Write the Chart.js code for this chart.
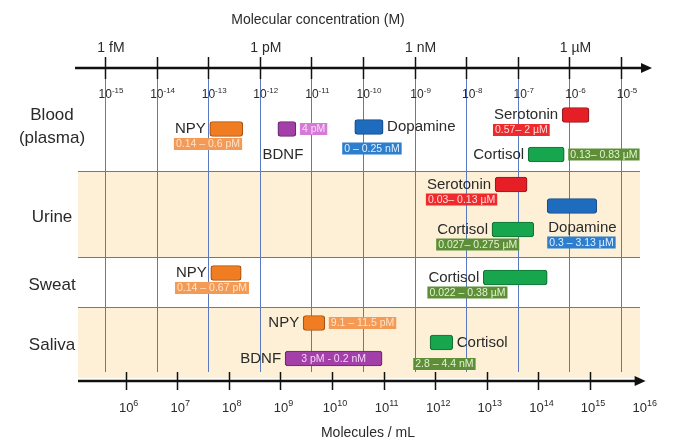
<!DOCTYPE html>
<html>
<head>
<meta charset="utf-8">
<script src="https://cdn.jsdelivr.net/npm/chart.js@4.4.0/dist/chart.umd.min.js"></script>
<style>
  html, body { margin: 0; padding: 0; background: #fff; }
  #wrap { width: 678px; height: 441px; }
</style>
</head>
<body>
<div id="wrap"><canvas id="chart" width="678" height="441"></canvas></div>
<script>
// rows = body fluids
const fluids = ['Blood', 'Urine', 'Sweat', 'Saliva'];
const fluidLabels = [['Blood', '(plasma)'], ['Urine'], ['Sweat'], ['Saliva']];

// one entry per bar
const markerNames = ['NPY', 'BDNF', 'Dopamine', 'Serotonin', 'Cortisol',
  'Serotonin', 'Dopamine', 'Cortisol',
  'NPY', 'Cortisol',
  'NPY', 'BDNF', 'Cortisol'];
const markerFluid = ['Blood', 'Blood', 'Blood', 'Blood', 'Blood',
  'Urine', 'Urine', 'Urine',
  'Sweat', 'Sweat',
  'Saliva', 'Saliva', 'Saliva'];
// bar ends as log10 of molar concentration
const logLow  = [-12.97, -11.65, -10.16, -6.14, -6.80, -7.44, -6.43, -7.50, -12.95, -7.67, -11.16, -11.51, -8.70];
const logHigh = [-12.33, -11.30, -9.61, -5.62, -6.10, -6.82, -5.47, -6.69, -12.36, -6.43, -10.74, -9.63, -8.26];
const rangeText = ['0.14 – 0.6 pM', '4 pM', '0 – 0.25 nM', '0.57– 2 µM', '0.13– 0.83 µM',
  '0.03– 0.13 µM', '0.3 – 3.13 µM', '0.027– 0.275 µM',
  '0.14 – 0.67 pM', '0.022 – 0.38 µM',
  '9.1 – 11.5 pM', '3 pM - 0.2 nM', '2.8 – 4.4 nM'];

// axes
const decadesM = [-15, -14, -13, -12, -11, -10, -9, -8, -7, -6, -5];
const unitDecades = [-15, -12, -9, -6];
const unitLabels = ['1 fM', '1 pM', '1 nM', '1 µM'];
const decadesMol = [6, 7, 8, 9, 10, 11, 12, 13, 14, 15, 16];
const molOffset = 20.6;   // log10(molecules/mL) - log10(M) as drawn

// layout, in y-scale units (rows stacked top to bottom)
const rowEdges = [0, 10.3, 18.9, 23.9, 31];
const laneY = [6.1, 6.1, 5.9, 4.7, 8.65, 11.65, 13.8, 16.15, 20.5, 20.95, 25.5, 29.05, 27.45];
const namePos = ['left', 'below', 'right', 'left', 'left', 'left', 'belowLeft', 'left', 'left', 'left', 'left', 'left', 'right'];
const tagPos = ['under', 'right', 'below', 'under', 'right', 'under', 'under', 'under', 'under', 'under', 'right', 'inside', 'below'];

const FONT = '"Liberation Sans", Arial, sans-serif';
const barColors = {
  NPY: ['#f07d22', '#a85414'],
  BDNF: ['#a23fa8', '#6a2870'],
  Dopamine: ['#1f6cbf', '#164e8c'],
  Serotonin: ['#e61f27', '#961a1f'],
  Cortisol: ['#17a64d', '#117236']
};
const tagColors = {
  NPY: ['#f49a55', '#fde4cc'],
  BDNF: ['#d67ad8', '#fbdcfb'],
  Dopamine: ['#2d7ecd', '#e2efff'],
  Serotonin: ['#ee2a2c', '#ffd9d9'],
  Cortisol: ['#5e8f38', '#e0f3cf']
};

function drawPow(ctx, base, exp, cx, y, size) {
  const small = Math.round(size * 0.7);
  ctx.font = size + 'px ' + FONT;
  const w1 = ctx.measureText(base).width;
  ctx.font = small + 'px ' + FONT;
  const w2 = ctx.measureText(exp).width;
  const x0 = cx - (w1 + w2) / 2;
  ctx.textAlign = 'left';
  ctx.textBaseline = 'alphabetic';
  ctx.font = size + 'px ' + FONT;
  ctx.fillText(base, x0, y);
  ctx.font = small + 'px ' + FONT;
  ctx.fillText(exp, x0 + w1, y - size * 0.45);
}

function arrowLine(ctx, x1, x2, y) {
  ctx.strokeStyle = '#111';
  ctx.fillStyle = '#111';
  ctx.lineWidth = 2.5;
  ctx.beginPath();
  ctx.moveTo(x1, y);
  ctx.lineTo(x2 - 8, y);
  ctx.stroke();
  ctx.beginPath();
  ctx.moveTo(x2, y);
  ctx.lineTo(x2 - 11, y - 5);
  ctx.lineTo(x2 - 11, y + 5);
  ctx.closePath();
  ctx.fill();
}

function drawTag(ctx, text, x, top, colors, align) {
  ctx.font = '10.5px ' + FONT;
  const w = ctx.measureText(text).width + 4;
  const left = align === 'center' ? x - w / 2 : x;
  ctx.fillStyle = colors[0];
  ctx.fillRect(left, top, w, 12);
  ctx.fillStyle = colors[1];
  ctx.textAlign = 'left';
  ctx.textBaseline = 'middle';
  ctx.fillText(text, left + 2, top + 6.5);
}

const overlay = {
  id: 'overlay',
  beforeDatasetsDraw(chart) {
    const ctx = chart.ctx;
    const { x, y } = chart.scales;
    const area = chart.chartArea;
    ctx.save();
    // shaded rows
    ctx.fillStyle = '#fdf0d6';
    for (let i = 1; i < fluids.length; i += 2) {
      const t = y.getPixelForValue(rowEdges[i]);
      const b = y.getPixelForValue(rowEdges[i + 1]);
      ctx.fillRect(area.left, t, area.right - area.left, b - t);
    }
    // row separators
    ctx.strokeStyle = '#5a79c0';
    ctx.lineWidth = 1;
    for (let i = 1; i < fluids.length; i++) {
      const py = Math.round(y.getPixelForValue(rowEdges[i])) + 0.5;
      ctx.beginPath();
      ctx.moveTo(area.left, py);
      ctx.lineTo(area.right, py);
      ctx.stroke();
    }
    // decade grid
    decadesM.forEach(d => {
      const px = Math.round(x.getPixelForValue(d)) + 0.5;
      ctx.beginPath();
      ctx.moveTo(px, area.top);
      ctx.lineTo(px, area.bottom - 6);
      ctx.stroke();
    });
    ctx.restore();
  },
  afterDatasetsDraw(chart) {
    const ctx = chart.ctx;
    const { x, x2, y } = chart.scales;
    const area = chart.chartArea;
    ctx.save();
    ctx.fillStyle = '#2a2a2a';

    // top axis
    ctx.textAlign = 'center';
    ctx.textBaseline = 'alphabetic';
    ctx.font = '14px ' + FONT;
    ctx.fillText('Molecular concentration (M)', 318, 24);
    unitDecades.forEach((d, i) => {
      ctx.fillText(unitLabels[i], x.getPixelForValue(d) + 6, 52);
    });
    arrowLine(ctx, area.left - 3, area.right + 12, area.top);
    ctx.strokeStyle = '#111';
    ctx.lineWidth = 1.5;
    decadesM.forEach(d => {
      const px = Math.round(x.getPixelForValue(d)) + 0.5;
      ctx.beginPath();
      ctx.moveTo(px, area.top - 11);
      ctx.lineTo(px, area.top + 11);
      ctx.stroke();
    });
    ctx.fillStyle = '#2a2a2a';
    decadesM.forEach(d => drawPow(ctx, '10', String(d), x.getPixelForValue(d) + 6, 98, 12));

    // bottom axis
    const by = area.bottom + 3;
    arrowLine(ctx, area.left, x2.getPixelForValue(16) + 4, by);
    ctx.strokeStyle = '#111';
    ctx.lineWidth = 1.5;
    decadesMol.slice(0, -1).forEach(d => {
      const px = Math.round(x2.getPixelForValue(d)) + 0.5;
      ctx.beginPath();
      ctx.moveTo(px, by - 9);
      ctx.lineTo(px, by + 9);
      ctx.stroke();
    });
    ctx.fillStyle = '#2a2a2a';
    decadesMol.forEach(d => drawPow(ctx, '10', String(d), x2.getPixelForValue(d) + 3, 412, 13));
    ctx.textAlign = 'center';
    ctx.font = '14px ' + FONT;
    ctx.fillText('Molecules / mL', 368, 437);

    // row labels
    ctx.font = '17px ' + FONT;
    ctx.textBaseline = 'middle';
    fluidLabels.forEach((lines, i) => {
      const mid = y.getPixelForValue((rowEdges[i] + rowEdges[i + 1]) / 2);
      lines.forEach((ln, k) => {
        ctx.fillText(ln, 52, mid + 3 + (k - (lines.length - 1) / 2) * 23 + (i === 0 ? 4 : 0));
      });
    });

    // bar names and range tags
    const meta = chart.getDatasetMeta(0);
    meta.data.forEach((el, i) => {
      const name = markerNames[i];
      const left = Math.min(el.x, el.base);
      const right = Math.max(el.x, el.base);
      const bottom = el.y + el.height / 2;
      ctx.font = '15px ' + FONT;
      ctx.fillStyle = '#2a2a2a';
      ctx.textBaseline = 'middle';
      const nw = ctx.measureText(name).width;
      let nLeft, nMid;
      if (namePos[i] === 'left') { nLeft = left - 4 - nw; nMid = el.y; }
      else if (namePos[i] === 'right') { nLeft = right + 4; nMid = el.y; }
      else if (namePos[i] === 'below') { nLeft = (left + right) / 2 - nw / 2 - 4; nMid = bottom + 18; }
      else { nLeft = left + 1; nMid = bottom + 14; }
      ctx.textAlign = 'left';
      ctx.fillText(name, nLeft, nMid);

      const tc = (name === 'BDNF' && markerFluid[i] === 'Saliva') ? ['#b04cbc', '#f6d4f8'] : tagColors[name];
      const text = rangeText[i];
      if (tagPos[i] === 'under') drawTag(ctx, text, nLeft - 1, nMid + 9, tc, 'left');
      else if (tagPos[i] === 'right') drawTag(ctx, text, right + 4, el.y - 6, tc, 'left');
      else if (tagPos[i] === 'below') drawTag(ctx, text, (left + right) / 2 + 3, bottom + 8, tc, 'center');
      else {
        ctx.font = '10.5px ' + FONT;
        ctx.fillStyle = tc[1];
        ctx.textAlign = 'center';
        ctx.fillText(text, (left + right) / 2, el.y + 0.5);
      }
    });
    ctx.restore();
  }
};

new Chart(document.getElementById('chart'), {
  type: 'bar',
  data: {
    datasets: [{
      data: markerNames.map((n, i) => ({ x: [logLow[i], logHigh[i]], y: laneY[i] })),
      backgroundColor: markerNames.map(n => barColors[n][0]),
      borderColor: markerNames.map(n => barColors[n][1]),
      borderWidth: 1.2,
      borderRadius: 3,
      borderSkipped: false,
      barThickness: 15
    }]
  },
  options: {
    indexAxis: 'y',
    responsive: false,
    animation: false,
    layout: { padding: { left: 78, right: 38, top: 68, bottom: 63 } },
    scales: {
      x: { type: 'linear', min: -15.523, max: -4.632, display: false },
      x2: { type: 'linear', axis: 'x', position: 'bottom', min: -15.523 + molOffset, max: -4.632 + molOffset, display: false },
      y: { type: 'linear', min: 0, max: 31, reverse: true, offset: false, display: false }
    },
    plugins: { legend: { display: false }, tooltip: { enabled: false } }
  },
  plugins: [overlay]
});
</script>
</body>
</html>
